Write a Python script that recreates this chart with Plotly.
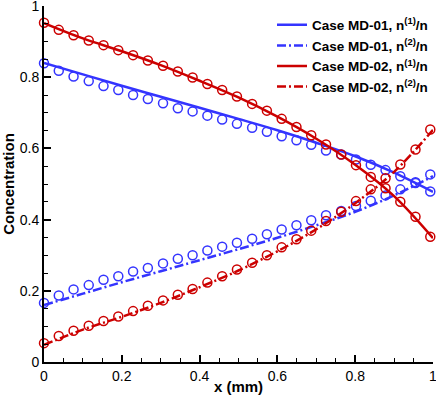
import plotly.graph_objects as go

# marker (MD) positions and values
x_md = [0.0, 0.038, 0.076, 0.115, 0.153, 0.191, 0.229, 0.267, 0.306, 0.344,
        0.382, 0.420, 0.458, 0.496, 0.535, 0.573, 0.611, 0.649, 0.687, 0.725,
        0.764, 0.802, 0.840, 0.878, 0.916, 0.955, 0.993]

md01_n1 = [0.839, 0.818, 0.802, 0.789, 0.775, 0.764, 0.750, 0.739, 0.727, 0.713,
           0.704, 0.692, 0.681, 0.669, 0.658, 0.647, 0.634, 0.623, 0.610, 0.594,
           0.583, 0.569, 0.554, 0.539, 0.522, 0.505, 0.479]
md01_n2 = [0.166, 0.187, 0.204, 0.216, 0.231, 0.241, 0.254, 0.264, 0.277, 0.290,
           0.300, 0.313, 0.324, 0.335, 0.346, 0.359, 0.372, 0.384, 0.398, 0.412,
           0.424, 0.438, 0.453, 0.468, 0.485, 0.503, 0.527]
md02_n1 = [0.953, 0.933, 0.918, 0.903, 0.890, 0.876, 0.862, 0.847, 0.832, 0.816,
           0.799, 0.781, 0.764, 0.746, 0.725, 0.706, 0.683, 0.660, 0.637, 0.611,
           0.583, 0.553, 0.520, 0.488, 0.450, 0.408, 0.352]
md02_n2 = [0.053, 0.073, 0.088, 0.102, 0.115, 0.128, 0.143, 0.158, 0.173, 0.189,
           0.205, 0.223, 0.241, 0.260, 0.279, 0.300, 0.322, 0.345, 0.369, 0.396,
           0.422, 0.452, 0.485, 0.516, 0.555, 0.597, 0.653]

# continuous curves
x_line = [0.0, 0.1, 0.2, 0.3, 0.4, 0.5, 0.6, 0.7, 0.8, 0.9, 1.0]
line01_n1 = [0.840, 0.808, 0.776, 0.745, 0.714, 0.683, 0.651, 0.616, 0.578, 0.532, 0.478]
line01_n2 = [0.160, 0.192, 0.224, 0.255, 0.286, 0.317, 0.349, 0.384, 0.422, 0.468, 0.522]
line02_n1 = [0.952, 0.909, 0.873, 0.834, 0.790, 0.743, 0.689, 0.627, 0.554, 0.466, 0.348]
line02_n2 = [0.048, 0.091, 0.127, 0.166, 0.210, 0.257, 0.311, 0.373, 0.446, 0.534, 0.652]

BLUE = '#3434ff'
RED = '#cc0000'
DASHDOT = '9px,3px,2px,3px'
FONT = 'Arial, Liberation Sans, sans-serif'

series = [
    ('Case MD-01, n<sup>(1)</sup>/n', line01_n1, md01_n1, BLUE, 'solid'),
    ('Case MD-01, n<sup>(2)</sup>/n', line01_n2, md01_n2, BLUE, DASHDOT),
    ('Case MD-02, n<sup>(1)</sup>/n', line02_n1, md02_n1, RED, 'solid'),
    ('Case MD-02, n<sup>(2)</sup>/n', line02_n2, md02_n2, RED, DASHDOT),
]

fig = go.Figure()

for name, yl, ym, col, dash in series:
    fig.add_trace(go.Scatter(x=x_line, y=yl, mode='lines', name=name,
                             line=dict(color=col, width=2.5, dash=dash, shape='spline'),
                             cliponaxis=False))
    fig.add_trace(go.Scatter(x=x_md, y=ym, mode='markers', showlegend=False,
                             marker=dict(symbol='circle-open', size=9, color=col,
                                         line=dict(width=1.5, color=col)),
                             cliponaxis=False))

axis_style = dict(range=[0, 1], dtick=0.2, showline=True, linewidth=2,
                  linecolor='black', ticks='inside', ticklen=7, tickwidth=2,
                  tickcolor='black', showgrid=False, zeroline=False,
                  ticklabeloverflow='allow', automargin=False,
                  tickfont=dict(family=FONT, size=14, color='black'),
                  minor=dict(dtick=0.05, ticks='inside', ticklen=4,
                             tickwidth=1, tickcolor='black'))

fig.update_xaxes(**axis_style,
                 title=dict(text='<b>x (mm)</b>', standoff=0,
                            font=dict(family=FONT, size=15, color='black')))
fig.update_yaxes(**axis_style,
                 title=dict(text='<b>Concentration</b>', standoff=4,
                            font=dict(family=FONT, size=15, color='black')))

fig.update_layout(width=436, height=395,
                  margin=dict(l=44, r=3, t=6, b=33),
                  plot_bgcolor='white', paper_bgcolor='white',
                  font=dict(family=FONT, color='black'),
                  legend=dict(x=1.0, y=0.99, xanchor='right', yanchor='top',
                              bgcolor='rgba(0,0,0,0)', tracegroupgap=0,
                              font=dict(family=FONT, size=13.5, color='black', weight='bold')))

fig.write_html('out.html', config={'displayModeBar': False},
               post_script="document.body.style.margin='0';")
